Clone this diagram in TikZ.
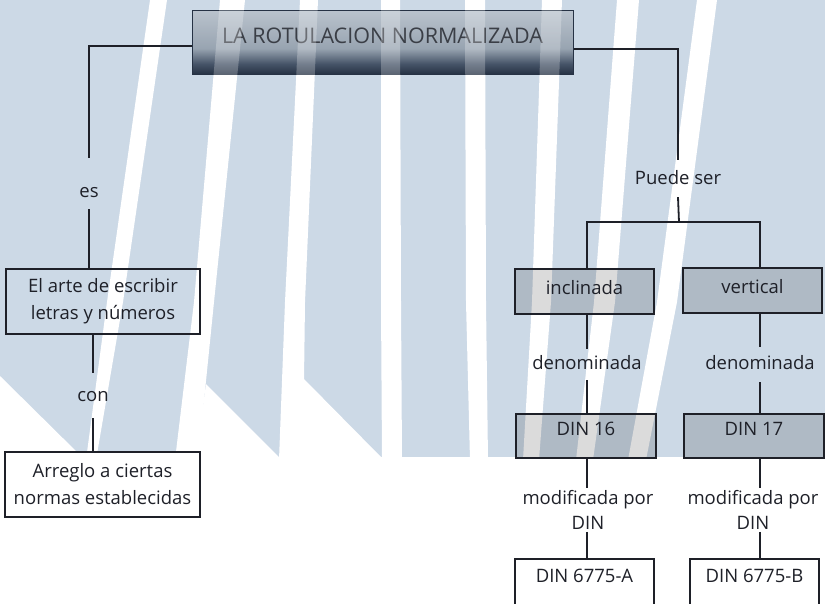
\documentclass[tikz,border=0pt]{standalone}
\usepackage{fontspec}
\setmainfont{Open Sans}
\usepackage{tikz}
\usetikzlibrary{positioning, calc}

\definecolor{wmblue}{RGB}{204,217,230}
\definecolor{ink}{RGB}{30,32,40}
\definecolor{titletext}{RGB}{58,62,70}
\definecolor{titletop}{RGB}{186,195,205}
\definecolor{titlemid}{RGB}{152,164,177}
\definecolor{titledark}{RGB}{70,84,104}
\definecolor{titlebot}{RGB}{38,50,68}
\pgfdeclareverticalshading{titleshade}{100bp}{color(0bp)=(titlebot); color(25bp)=(titlebot); color(33bp)=(titledark); color(45bp)=(titlemid); color(75bp)=(titletop); color(100bp)=(titletop)}

% watermark stripes: top left/right, middle left/right, bottom left/right
\newcommand{\stripelist}{150/167/107/123/86/96, 220/245/194/214/175/198, 300/318/285/305/279/303,
  381/400/381/401/382/402, 465/485/466/486/470/488, 542/562/532/551/523/539,
  617/639/594/615/576/593, 697/717/657/677/628/646}

\begin{document}
\begin{tikzpicture}[
  x=1pt, y=-1pt,
  link/.style={draw=ink, line width=1.8pt},
  tag/.style={font=\fontsize{18.5}{25}\selectfont, text=ink, inner xsep=2pt, inner ysep=0pt, anchor=base},
  modtag/.style={font=\fontsize{18.5}{25}\selectfont, text=ink, align=center, inner xsep=2pt, inner ysep=2pt},
  plainbox/.style={draw=ink, line width=1.4pt, font=\fontsize{18.5}{27}\selectfont, text=ink, align=center},
  greybox/.style={draw=ink, line width=1.8pt, fill=black, fill opacity=0.14, text opacity=1, font=\fontsize{18.5}{25}\selectfont, text=ink, anchor=base, inner ysep=4pt, minimum width=139pt},
  whitebox/.style={draw=ink, line width=1.4pt, fill=white, font=\fontsize{18.5}{25}\selectfont, text=ink, anchor=base, inner ysep=6pt, text height=17pt, text depth=40pt},
  titlebox/.style={draw=titlebot, line width=1pt, shading=titleshade, text=titletext, font=\fontsize{21.5}{26}\selectfont, anchor=base, minimum width=381pt, inner ysep=4pt, text height=29pt, text depth=27pt}
]
\useasboundingbox (0,0) rectangle (825,603);
\clip (0,0) rectangle (825,603);

% Watermark background
\fill[wmblue] (0,0) rectangle (825,457);
\foreach \a/\b/\c/\d/\e/\f in \stripelist {
  \fill[white] (\a,0) -- (\b,0) -- (\d,302) -- (\f,460) -- (\e,460) -- (\c,302) -- cycle;
}
\fill[white] (0,376) -- (83,458) -- (0,458) -- cycle;
\fill[white] (206,384) -- (280,458) -- (196,458) -- cycle;
\fill[white] (304,379) -- (382,458) -- (301,458) -- cycle;

% Title
\node[titlebox] (title) at (382.5,43) {LA ROTULACION NORMALIZADA};
\begin{scope}
  \clip (title.north west) rectangle (title.south east);
  \foreach \a/\b/\c/\d/\e/\f in \stripelist {
    \fill[white, opacity=0.25] (\a,0) -- (\b,0) -- (\d,302) -- (\c,302) -- cycle;
  }
\end{scope}

% Left branch
\node[tag, text height=39pt, text depth=12pt] (es) at (89,197) {es};
\node[plainbox, minimum width=194pt, minimum height=65pt] (arte) at (103,301.5) {El arte de escribir\\letras y números};
\node[tag, text height=28pt, text depth=17pt] (con) at (93,401) {con};
\node[plainbox, fill=white, minimum width=195pt, minimum height=65pt] (arreglo) at (102.5,484.5) {Arreglo a ciertas\\normas establecidas};

% Right branch
\node[tag, text height=24pt, text depth=13pt] (puede) at (678,184) {Puede ser};
\coordinate (fork) at (679,222);
\node[greybox, text height=21pt, text depth=16pt] (incl) at (584.5,294) {inclinada};
\node[greybox, text height=21pt, text depth=16pt] (vert) at (752.5,293) {vertical};
\node[tag, text height=20pt, text depth=11pt] (den1) at (587,369) {denominada};
\node[tag, text height=22pt, text depth=13pt] (den2) at (760,369) {denominada};
\node[greybox, text height=17pt, text depth=19pt, minimum width=140pt] (din16) at (586,435) {DIN 16};
\node[greybox, text height=17pt, text depth=19pt, minimum width=140pt] (din17) at (754,435) {DIN 17};
\node[modtag] (mod1) at (588,510) {modificada por\\DIN};
\node[modtag] (mod2) at (753,510) {modificada por\\DIN};
\node[whitebox, minimum width=139pt] (dinA) at (584.5,582) {DIN 6775-A};
\node[whitebox, minimum width=129pt] (dinB) at (754.5,582) {DIN 6775-B};

% Connectors
\draw[link] ([yshift=-4pt]title.west) -| (es.north);
\draw[link] (es.south) -- (es.south |- arte.north);
\draw[link] (arte.south -| con.north) -- (con.north);
\draw[link] (con.south) -- (con.south |- arreglo.north);
\draw[link] ([yshift=-7pt]title.east) -| (puede.north);
\draw[link] (puede.south) -- (fork);
\draw[link] (incl.north -| den1) |- (fork) -| (vert.north -| den2);
\draw[link] (incl.south -| den1) -- (den1.north);
\draw[link] (den1.south) -- (den1.south |- din16.north);
\draw[link] (vert.south -| den2) -- (den2.north);
\draw[link] (den2.south) -- (den2.south |- din17.north);
\draw[link] (din16.south -| den1) -- (den1 |- mod1.north);
\draw[link] (mod1.south -| den1) -- (den1 |- dinA.north);
\draw[link] (din17.south -| den2) -- (den2 |- mod2.north);
\draw[link] (mod2.south -| den2) -- (den2 |- dinB.north);

\end{tikzpicture}
\end{document}
